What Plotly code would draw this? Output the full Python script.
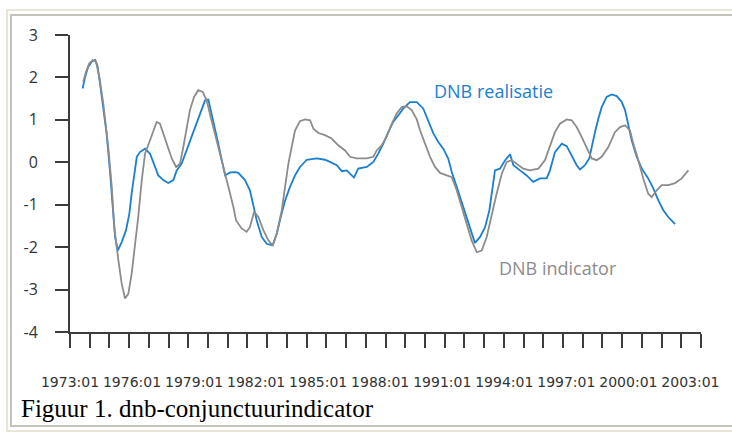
import plotly.graph_objects as go

# ---- data (decimal years, index values) ----
real_years = [1973.61, 1973.73, 1973.88, 1974.05, 1974.21, 1974.32, 1974.45, 1974.61, 1974.77, 1974.93,
              1975.06, 1975.18, 1975.31, 1975.50, 1975.71, 1975.87, 1975.98, 1976.11, 1976.23, 1976.38,
              1976.63, 1976.87, 1977.11, 1977.27, 1977.51, 1977.75, 1978.00, 1978.16, 1978.40, 1978.64,
              1978.88, 1979.13, 1979.37, 1979.53, 1979.69, 1979.85, 1980.01, 1980.17, 1980.34, 1980.50,
              1980.74, 1980.98, 1981.14, 1981.46, 1981.70, 1981.86, 1982.03, 1982.27, 1982.51, 1982.80,
              1983.00, 1983.19, 1983.40, 1983.64, 1983.88, 1984.12, 1984.45, 1984.93, 1985.33, 1985.57,
              1985.90, 1986.14, 1986.38, 1986.73, 1986.94, 1987.35, 1987.67, 1987.91, 1988.15, 1988.39,
              1988.63, 1988.88, 1989.12, 1989.44, 1989.77, 1990.08, 1990.33, 1990.57, 1990.81, 1991.05,
              1991.29, 1991.46, 1991.70, 1991.94, 1992.18, 1992.42, 1992.58, 1992.83, 1993.07, 1993.28,
              1993.44, 1993.55, 1993.79, 1994.04, 1994.28, 1994.44, 1994.76, 1995.08, 1995.40, 1995.73,
              1996.05, 1996.21, 1996.45, 1996.78, 1997.02, 1997.26, 1997.50, 1997.66, 1997.90, 1998.11,
              1998.23, 1998.39, 1998.55, 1998.71, 1998.95, 1999.19, 1999.44, 1999.68, 1999.84, 2000.00,
              2000.16, 2000.40, 2000.65, 2000.96, 2001.21, 2001.45, 2001.69, 2001.93, 2002.26]
real_values = [1.74, 2.01, 2.25, 2.37, 2.41, 2.29, 1.86, 1.30, 0.68, -0.19,
               -1.05, -1.76, -2.08, -1.88, -1.60, -1.21, -0.74, -0.27, 0.13, 0.24,
               0.32, 0.20, -0.11, -0.31, -0.42, -0.49, -0.42, -0.19, -0.03, 0.28,
               0.60, 0.91, 1.23, 1.46, 1.48, 1.15, 0.83, 0.44, 0.05, -0.31,
               -0.24, -0.23, -0.25, -0.42, -0.66, -0.97, -1.37, -1.76, -1.92, -1.96,
               -1.68, -1.29, -0.90, -0.58, -0.31, -0.11, 0.06, 0.09, 0.06, 0.01,
               -0.07, -0.21, -0.19, -0.36, -0.15, -0.11, 0.01, 0.21, 0.44, 0.71,
               0.95, 1.11, 1.27, 1.42, 1.42, 1.27, 0.99, 0.68, 0.48, 0.32,
               0.09, -0.23, -0.58, -0.94, -1.29, -1.68, -1.90, -1.76, -1.53, -1.13,
               -0.58, -0.19, -0.15, 0.05, 0.19, -0.07, -0.19, -0.31, -0.46, -0.38,
               -0.38, -0.19, 0.24, 0.44, 0.38, 0.16, -0.07, -0.17, -0.07, 0.09,
               0.40, 0.72, 1.03, 1.30, 1.54, 1.60, 1.56, 1.42, 1.23, 0.91,
               0.52, 0.13, -0.15, -0.38, -0.62, -0.90, -1.13, -1.29, -1.46]

ind_years = [1973.64, 1973.77, 1973.93, 1974.10, 1974.26, 1974.42, 1974.61, 1974.85, 1975.02, 1975.14,
             1975.34, 1975.50, 1975.66, 1975.82, 1975.98, 1976.14, 1976.30, 1976.47, 1976.63, 1976.87,
             1977.03, 1977.19, 1977.35, 1977.51, 1977.68, 1977.92, 1978.13, 1978.32, 1978.48, 1978.64,
             1978.80, 1979.00, 1979.20, 1979.42, 1979.61, 1979.80, 1980.01, 1980.25, 1980.50, 1980.70,
             1980.90, 1981.03, 1981.30, 1981.54, 1981.70, 1981.90, 1982.11, 1982.35, 1982.59, 1982.80,
             1983.00, 1983.24, 1983.40, 1983.56, 1983.72, 1983.88, 1984.12, 1984.36, 1984.61, 1984.77,
             1985.01, 1985.33, 1985.65, 1985.97, 1986.30, 1986.54, 1986.86, 1987.35, 1987.67, 1987.83,
             1988.07, 1988.31, 1988.56, 1988.80, 1989.04, 1989.28, 1989.52, 1989.77, 1989.93, 1990.17,
             1990.41, 1990.65, 1990.89, 1991.22, 1991.46, 1991.70, 1991.94, 1992.18, 1992.42, 1992.67,
             1992.91, 1993.15, 1993.39, 1993.63, 1993.88, 1994.12, 1994.36, 1994.60, 1994.92, 1995.24,
             1995.65, 1995.97, 1996.21, 1996.45, 1996.69, 1997.02, 1997.26, 1997.50, 1997.74, 1997.99,
             1998.23, 1998.47, 1998.71, 1999.03, 1999.35, 1999.60, 1999.84, 2000.08, 2000.24, 2000.48,
             2000.72, 2000.96, 2001.13, 2001.37, 2001.61, 2001.93, 2002.26, 2002.58, 2002.90]
ind_values = [1.89, 2.13, 2.33, 2.41, 2.37, 2.01, 1.38, 0.36, -0.58, -1.53,
              -2.31, -2.86, -3.21, -3.10, -2.63, -2.00, -1.29, -0.42, 0.21, 0.52,
              0.75, 0.95, 0.91, 0.68, 0.40, 0.09, -0.11, -0.03, 0.36, 0.83,
              1.23, 1.54, 1.70, 1.66, 1.46, 1.07, 0.68, 0.21, -0.27, -0.66,
              -1.05, -1.37, -1.56, -1.64, -1.53, -1.17, -1.29, -1.60, -1.84, -1.96,
              -1.68, -1.13, -0.58, -0.03, 0.36, 0.75, 0.97, 1.01, 0.99, 0.79,
              0.69, 0.64, 0.56, 0.40, 0.28, 0.13, 0.09, 0.09, 0.13, 0.28,
              0.40, 0.60, 0.91, 1.15, 1.30, 1.32, 1.23, 1.01, 0.75, 0.44,
              0.13, -0.11, -0.25, -0.31, -0.35, -0.66, -1.05, -1.45, -1.84, -2.12,
              -2.08, -1.76, -1.21, -0.74, -0.27, 0.01, 0.05, -0.03, -0.15, -0.19,
              -0.15, 0.05, 0.36, 0.71, 0.91, 1.01, 0.99, 0.83, 0.60, 0.32,
              0.09, 0.05, 0.13, 0.36, 0.71, 0.83, 0.87, 0.75, 0.44, 0.05,
              -0.38, -0.74, -0.82, -0.66, -0.54, -0.54, -0.49, -0.38, -0.19]

y_ticks = [3, 2, 1, 0, -1, -2, -3, -4]
y_ticktext = ["3", "2", "1", "0", "-1", "-2", "-3", "-4"]
x_label_years = [1973, 1976, 1979, 1982, 1985, 1988, 1991, 1994, 1997, 2000, 2003]
x_labels = ["1973:01", "1976:01", "1979:01", "1982:01", "1985:01", "1988:01",
            "1991:01", "1994:01", "1997:01", "2000:01", "2003:01"]

BLUE = "#1a7fcf"
GRAY = "#8c8c8c"
AXIS = "#3c3c3c"
FONT = "'Open Sans', Lato, sans-serif"
TICKFONT = "'DejaVu Sans', sans-serif"

fig = go.Figure()
fig.add_trace(go.Scatter(x=real_years, y=real_values, mode="lines",
                         line=dict(color=BLUE, width=1.8), name="DNB realisatie"))
fig.add_trace(go.Scatter(x=ind_years, y=ind_values, mode="lines",
                         line=dict(color=GRAY, width=1.8), name="DNB indicator"))
# invisible trace to activate the label axis
fig.add_trace(go.Scatter(x=[1973], y=[0], xaxis="x2", mode="markers",
                         marker=dict(opacity=0), showlegend=False, hoverinfo="skip"))

x_end = 1973 + 631 / 20.68
fig.update_layout(
    width=732, height=432,
    margin=dict(l=70, r=31, t=35, b=100),
    paper_bgcolor="white", plot_bgcolor="white",
    showlegend=False,
    font=dict(family=FONT, color="#333333"),
    xaxis=dict(range=[1973, x_end], tick0=1973, dtick=(x_end - 1973) / 32,
               showticklabels=False, ticks="outside", ticklen=14, tickwidth=2,
               tickcolor=AXIS, showline=True, linecolor=AXIS, linewidth=2,
               showgrid=False, zeroline=False),
    xaxis2=dict(range=[1973, x_end], overlaying="x", anchor="y", side="bottom",
                tickmode="array", tickvals=x_label_years, ticktext=x_labels,
                ticks="", showline=False, showgrid=False, zeroline=False,
                ticklabelstandoff=40,
                tickfont=dict(family=TICKFONT, size=14, color="#333333")),
    yaxis=dict(range=[-4, 3], tickmode="array", tickvals=y_ticks, ticktext=y_ticktext,
               ticks="outside", ticklen=13, tickwidth=2, tickcolor=AXIS,
               showline=True, linecolor=AXIS, linewidth=2, showgrid=False, zeroline=False,
               ticklabelstandoff=14,
               tickfont=dict(family=FONT, size=16, color="#333333")),
    annotations=[
        dict(x=1993.5, y=1.68, xref="x", yref="y", text="DNB realisatie", showarrow=False,
             font=dict(family=FONT, size=18, color=BLUE)),
        dict(x=1996.6, y=-2.48, xref="x", yref="y", text="DNB indicator", showarrow=False,
             font=dict(family=FONT, size=18, color=GRAY)),
        dict(x=(19 - 70) / 631, y=(332 - 408) / 297, xref="paper", yref="paper",
             xanchor="left", yanchor="middle", text="Figuur 1. dnb-conjunctuurindicator",
             showarrow=False,
             font=dict(family="'Liberation Serif', 'Times New Roman', serif", size=25, color="#000000")),
    ],
    shapes=[
        dict(type="rect", xref="paper", yref="paper",
             x0=(7 - 70) / 631, x1=(745 - 70) / 631, y0=(332 - 431) / 297, y1=(332 - 10) / 297,
             line=dict(color="#e8e4d6", width=2), layer="below"),
        dict(type="rect", xref="paper", yref="paper",
             x0=(11 - 70) / 631, x1=(745 - 70) / 631, y0=(332 - 426) / 297, y1=(332 - 15) / 297,
             line=dict(color="#c4c3ba", width=2), layer="below"),
    ],
)

fig.write_html("out.html", config={"displayModeBar": False},
               post_script="document.body.style.margin='0px';document.body.style.overflow='hidden';")
